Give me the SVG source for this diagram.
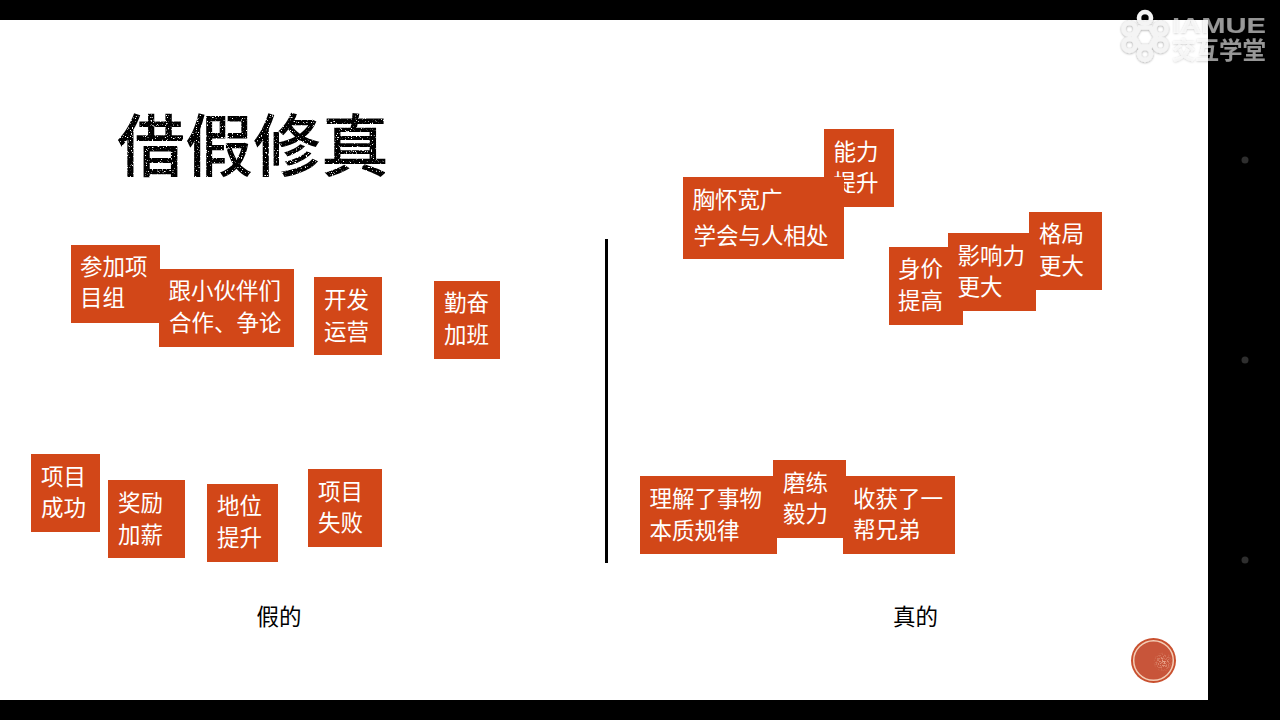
<svg xmlns="http://www.w3.org/2000/svg" width="1280" height="720" viewBox="0 0 1280 720">
<style>
text{font-family:"Noto Sans CJK SC","Noto Sans",sans-serif}
.b{fill:#d24718}
.t{fill:#fff;font-size:22.5px}
.k{fill:#000;font-size:22.5px}
.d{fill:#2e2e2e}
.r{fill:none;stroke:#f4f4f4;stroke-width:4.500}
.wm{fill:#fff;font-weight:700}
</style>
<defs>
<filter id="speckle" x="-5%" y="-5%" width="110%" height="110%" color-interpolation-filters="sRGB">
<feTurbulence type="fractalNoise" baseFrequency="0.8" numOctaves="2" seed="7" result="n"/>
<feColorMatrix in="n" type="matrix" values="0 0 0 0 0 0 0 0 0 0 0 0 0 0 0 0 0 0 8 -2" result="a"/>
<feComposite in="SourceGraphic" in2="a" operator="in"/>
</filter>
<filter id="spot" x="-10%" y="-10%" width="120%" height="120%" color-interpolation-filters="sRGB">
<feTurbulence type="fractalNoise" baseFrequency="0.7" numOctaves="2" seed="3" result="n"/>
<feColorMatrix in="n" type="matrix" values="0 0 0 0 0 0 0 0 0 0 0 0 0 0 0 0 0 0 10 -4.800" result="a"/>
<feComposite in="SourceGraphic" in2="a" operator="in"/>
</filter>
<filter id="halo" x="-5%" y="-5%" width="110%" height="110%">
<feDropShadow dx="0" dy="0.500" stdDeviation="0.800" flood-color="#000" flood-opacity="0.400"/>
</filter>
<radialGradient id="fade"><stop offset="0" stop-color="#f0b9a0" stop-opacity=".9"/><stop offset="1" stop-color="#f0b9a0" stop-opacity="0"/></radialGradient>
</defs>
<rect width="1280" height="720" fill="#000"/>
<rect x="0" y="20" width="1208" height="680" fill="#fff"/>
<circle class="d" cx="1245" cy="160" r="3.500"/>
<circle class="d" cx="1245" cy="360" r="3.500"/>
<circle class="d" cx="1245" cy="560" r="3.500"/>
<text x="117" y="171" font-size="68" font-weight="500" fill="#000" filter="url(#speckle)">借假修真</text>
<g id="n1"><rect class="b" x="71" y="245" width="89" height="78"/><text class="t" x="80" y="275">参加项</text><text class="t" x="80" y="306">目组</text></g>
<g id="n2"><rect class="b" x="159" y="269" width="135" height="78"/><text class="t" x="168.500" y="299">跟小伙伴们</text><text class="t" x="169" y="331">合作、争论</text></g>
<g id="n3"><rect class="b" x="314" y="277" width="68" height="78"/><text class="t" x="324" y="308">开发</text><text class="t" x="324" y="340">运营</text></g>
<g id="n4"><rect class="b" x="434" y="281" width="66" height="78"/><text class="t" x="444" y="311">勤奋</text><text class="t" x="444" y="343">加班</text></g>
<g id="n5"><rect class="b" x="31" y="454" width="69" height="78"/><text class="t" x="41" y="485">项目</text><text class="t" x="41" y="516">成功</text></g>
<g id="n6"><rect class="b" x="108" y="480" width="77" height="78"/><text class="t" x="118" y="511">奖励</text><text class="t" x="118" y="543">加薪</text></g>
<g id="n7"><rect class="b" x="207" y="484" width="71" height="78"/><text class="t" x="217" y="514">地位</text><text class="t" x="217" y="546">提升</text></g>
<g id="n8"><rect class="b" x="308" y="469" width="74" height="78"/><text class="t" x="318" y="500">项目</text><text class="t" x="318" y="531">失败</text></g>
<g id="n9"><rect class="b" x="824" y="129" width="70" height="78"/><text class="t" x="833.500" y="160">能力</text><text class="t" x="833.500" y="191">提升</text></g>
<g id="n10"><rect class="b" x="683" y="177" width="161" height="82"/><text class="t" x="692.500" y="208">胸怀宽广</text><text class="t" x="693.500" y="244">学会与人相处</text></g>
<g id="n11"><rect class="b" x="889" y="247" width="74" height="78"/><text class="t" x="898" y="277">身价</text><text class="t" x="898" y="309">提高</text></g>
<g id="n12"><rect class="b" x="948" y="233" width="88" height="78"/><text class="t" x="957.500" y="264">影响力</text><text class="t" x="957.500" y="295">更大</text></g>
<g id="n13"><rect class="b" x="1029" y="212" width="73" height="78"/><text class="t" x="1039" y="242">格局</text><text class="t" x="1039" y="274">更大</text></g>
<g id="n14"><rect class="b" x="640" y="476" width="137" height="78"/><text class="t" x="649.500" y="507">理解了事物</text><text class="t" x="649.500" y="539">本质规律</text></g>
<g id="n15"><rect class="b" x="773" y="460" width="73" height="78"/><text class="t" x="783" y="491">磨练</text><text class="t" x="783" y="522">毅力</text></g>
<g id="n16"><rect class="b" x="843" y="476" width="112" height="78"/><text class="t" x="853" y="507">收获了一</text><text class="t" x="853" y="538">帮兄弟</text></g>
<g id="connectors"><line x1="606.500" y1="239" x2="606.500" y2="563" stroke="#000" stroke-width="3"/></g>
<text class="k" x="256.500" y="625">假的</text>
<text class="k" x="893" y="625">真的</text>
<g id="badge">
<circle cx="1153.500" cy="660.500" r="22.500" fill="#c9502f"/>
<circle cx="1153.500" cy="660.500" r="19.800" fill="#c8553a" stroke="#f3cdb6" stroke-width="1.500"/>
<circle cx="1163" cy="662" r="10" fill="url(#fade)" filter="url(#spot)"/>
</g>
<g id="watermark" filter="url(#halo)">
<g class="rings">
<circle class="r" cx="1145" cy="18" r="6"/><circle class="r" cx="1145" cy="54" r="6"/>
<circle class="r" cx="1129.500" cy="29" r="6"/><circle class="r" cx="1160.500" cy="29" r="6"/>
<circle class="r" cx="1129.500" cy="45" r="6"/><circle class="r" cx="1160.500" cy="45" r="6"/>
<path class="r" d="M1134 37l5.500-9.500h11l5.500 9.500-5.500 9.500h-11z"/>
</g>
<text class="wm" x="1172" y="33" font-size="22" fill-opacity=".55" style="font-family:'Liberation Sans',sans-serif" textLength="94" lengthAdjust="spacingAndGlyphs">IAMUE</text>
<text class="wm" x="1172" y="59" font-size="23.500" fill-opacity=".55">交互学堂</text>
</g>
</svg>
